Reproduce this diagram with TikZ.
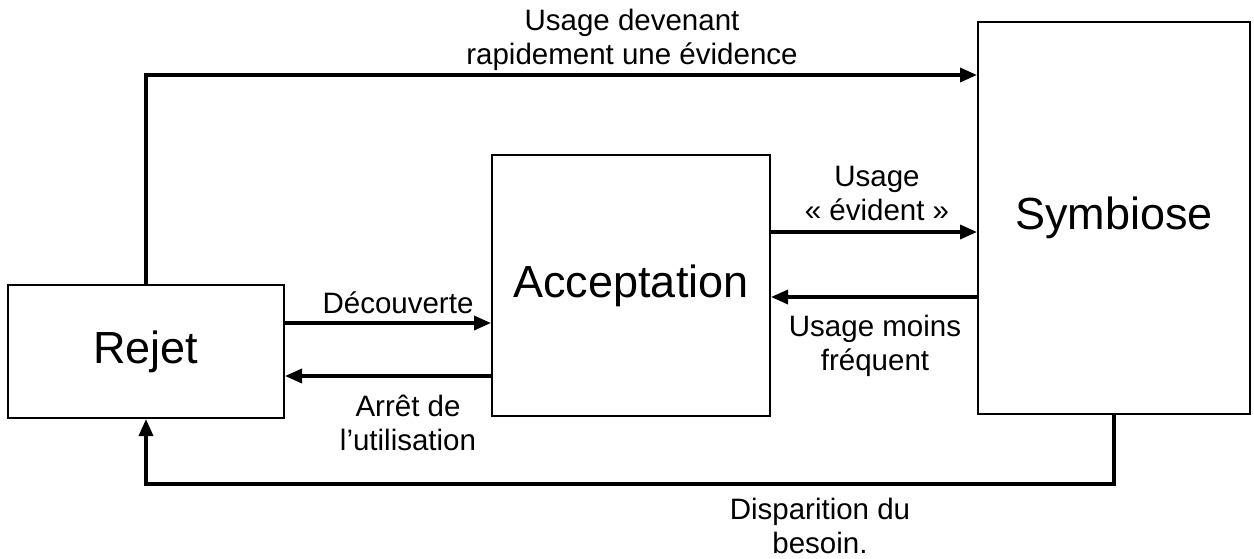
\documentclass[tikz,border=0pt]{standalone}
\usepackage{fontspec}
\setmainfont{Liberation Sans}
\usetikzlibrary{arrows.meta}
\tikzset{
  phase/.style={draw, line width=2pt, inner sep=0pt},
  flow/.style={line width=3.5pt, -{Triangle[length=17pt, width=14pt]}},
  lbl/.style={align=center, font=\fontsize{29.5}{34}\selectfont}
}
\begin{document}
\begin{tikzpicture}[x=1pt, y=-1pt]
\useasboundingbox (0,0) rectangle (1254,558);
\node (rejet) at (146,351.5) [phase, minimum width=276pt, minimum height=133pt, font=\fontsize{45}{50}\selectfont]{Rejet};
\node (accept) at (631,285.5) [phase, minimum width=278pt, minimum height=261pt, font=\fontsize{45}{50}\selectfont]{Acceptation};
\node (symb) at (1114,218) [phase, minimum width=272pt, minimum height=392pt, font=\fontsize{45}{50}\selectfont]{Symbiose};
\draw[flow] (rejet.north) |- (symb.west |- 0,75);
\draw[flow] (accept.east |- 0,232) -- (symb.west |- 0,232);
\draw[flow] (symb.west |- 0,297) -- (accept.east |- 0,297);
\draw[flow] (rejet.east |- 0,323) -- (accept.west |- 0,323);
\draw[flow] (accept.west |- 0,376) -- (rejet.east |- 0,376);
\draw[flow] (symb.south) -- ++(0,69) -| (rejet.south);
\node (l1) at (632,40) [lbl]{Usage devenant\\rapidement une évidence};
\node (l2) at (877,193) [lbl]{Usage\\« évident »};
\node (l3) at (875,346) [lbl]{Usage moins\\fréquent};
\node (l4) at (398,303) [lbl]{Découverte};
\node (l5) at (408,423) [lbl]{Arrêt de\\l’utilisation};
\node (l6) at (820,526) [lbl]{Disparition du\\besoin.};
\end{tikzpicture}
\end{document}
